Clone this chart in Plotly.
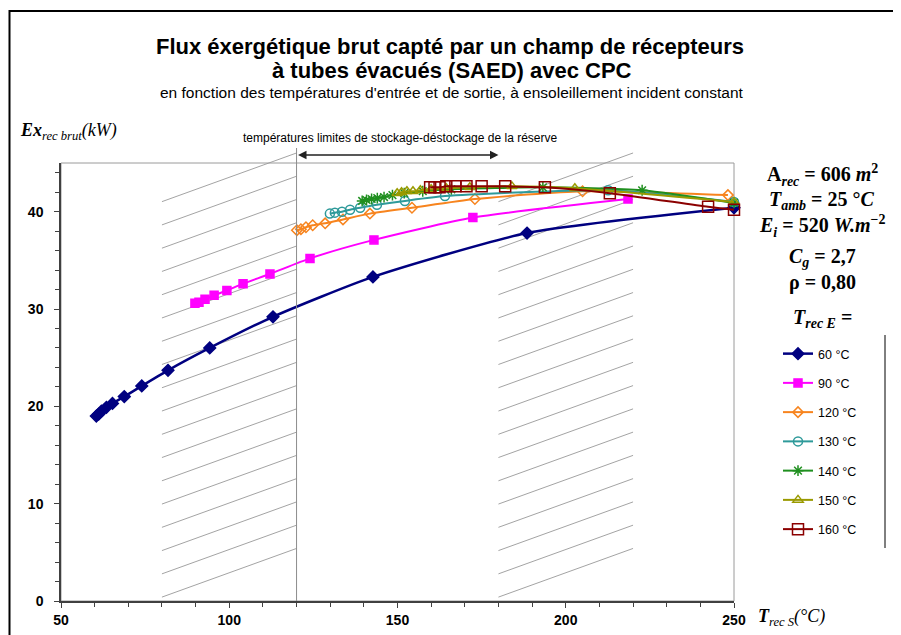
import plotly.graph_objects as go

# axis ranges
X0, X1 = 50, 250
Y0, Y1 = 0, 45

# series: outlet temperature T_rec S (°C) vs exergy flux (kW), one per inlet temperature
t60_x = [60.5, 61.2, 62.0, 63.5, 65.3, 68.8, 74.0, 81.8, 94.2, 113.0, 142.7, 188.5, 250.0]
t60_y = [19.0, 19.2, 19.5, 19.9, 20.3, 21.0, 22.1, 23.7, 26.0, 29.2, 33.3, 37.8, 40.4]

t90_x = [89.8, 91.0, 92.8, 95.5, 99.3, 104.1, 112.1, 124.0, 143.0, 172.4, 218.5]
t90_y = [30.6, 30.7, 31.0, 31.4, 31.9, 32.6, 33.6, 35.2, 37.1, 39.4, 41.3]

t120_x = [120.1, 121.3, 122.8, 124.8, 128.5, 133.8, 141.8, 154.3, 173.0, 205.0, 248.2]
t120_y = [38.1, 38.2, 38.4, 38.6, 38.8, 39.2, 39.8, 40.4, 41.3, 42.1, 41.7]

t130_x = [129.9, 131.4, 133.5, 135.9, 138.9, 143.9, 152.2, 164.1, 212.6, 250.0]
t130_y = [39.8, 39.9, 40.0, 40.2, 40.4, 40.7, 41.1, 41.6, 42.2, 41.0]

t140_x = [139.5, 140.8, 142.3, 144.0, 146.0, 148.5, 152.0, 157.5, 166.0, 193.2, 222.7, 250.0]
t140_y = [41.1, 41.2, 41.3, 41.4, 41.5, 41.7, 41.9, 42.1, 42.3, 42.5, 42.2, 40.9]

t150_x = [149.9, 151.2, 152.8, 154.6, 156.8, 160.0, 164.5, 171.5, 184.0, 202.7, 250.0]
t150_y = [41.9, 42.0, 42.1, 42.1, 42.2, 42.3, 42.4, 42.5, 42.6, 42.4, 41.0]

t160_x = [159.7, 161.0, 162.5, 164.5, 167.2, 170.5, 175.0, 182.0, 193.8, 213.1, 242.3, 250.0]
t160_y = [42.5, 42.5, 42.5, 42.6, 42.6, 42.6, 42.6, 42.6, 42.5, 41.9, 40.5, 40.2]

labels = ["60 °C", "90 °C", "120 °C", "130 °C", "140 °C", "150 °C", "160 °C"]
colors = ["#000080", "#ff00ff", "#f7841e", "#2e9a9a", "#1f8f1f", "#9a9a00", "#8b0000"]
symbols = ["diamond", "square", "diamond-open", "circle-open", "asterisk-open",
           "triangle-up-open", "square-open"]
sizes = [9, 8, 8, 9, 9, 9, 11]
xs = [t60_x, t90_x, t120_x, t130_x, t140_x, t150_x, t160_x]
ys = [t60_y, t90_y, t120_y, t130_y, t140_y, t150_y, t160_y]

# hatched zones (outlet temperatures outside the storage limits)
hatch_zones = [(80, 120), (180, 220)]
storage_limits = (120, 180)

# plot area in the picture (pixels): left, top, width, height
PL, PT, PW, PH = 61, 163, 673, 438
OFF = 8  # page body margin


def xp(v):
    return (v - X0) / (X1 - X0)


def yp(v):
    return (v - Y0) / (Y1 - Y0)


def pxx(px):
    return (px - PL) / PW


def pxy(py):
    return (PT + PH - py) / PH


fig = go.Figure()

for i in range(len(labels)):
    fig.add_trace(go.Scatter(
        x=xs[i], y=ys[i], mode="lines+markers", name=labels[i],
        legendgroup=labels[i],
        line=dict(color=colors[i], width=2.5 if i == 0 else 2, shape="spline", smoothing=0.6),
        marker=dict(symbol=symbols[i], size=sizes[i], color=colors[i],
                    line=dict(color=colors[i], width=1.5)),
        cliponaxis=False,
    ))

shapes = []
# hatch lines
for (a, b) in hatch_zones:
    for k in range(18):
        y_left = 0.4 + k * 2.39
        shapes.append(dict(type="line", xref="paper", yref="paper",
                           x0=xp(a), x1=xp(b), y0=yp(y_left), y1=yp(y_left + 5.0),
                           line=dict(color="#8c8c8c", width=0.8), layer="below"))

# grey plot frame (top/right)
shapes.append(dict(type="rect", xref="paper", yref="paper", x0=0, x1=1, y0=0, y1=1,
                   line=dict(color="#9a9a9a", width=1), layer="below"))
# vertical limit line at 120 °C
shapes.append(dict(type="line", xref="paper", yref="paper",
                   x0=xp(storage_limits[0]), x1=xp(storage_limits[0]), y0=0, y1=pxy(148),
                   line=dict(color="#8c8c8c", width=1)))
# legend right border
shapes.append(dict(type="line", xref="paper", yref="paper", x0=pxx(885), x1=pxx(885),
                   y0=pxy(548), y1=pxy(335), line=dict(color="black", width=1)))
# outer frame of the picture
shapes.append(dict(type="rect", xref="paper", yref="paper", x0=pxx(9.5), x1=pxx(894),
                   y0=pxy(660), y1=pxy(11), line=dict(color="black", width=2)))

serif = "Liberation Serif"
sans = "Liberation Sans"
cx = pxx(822)

annotations = [
    dict(text="<b>Flux éxergétique brut capté par un champ de récepteurs</b>",
         x=pxx(450), y=pxy(46), font=dict(family=sans, size=22, color="black")),
    dict(text="<b>à tubes évacués (SAED) avec CPC</b>",
         x=pxx(452), y=pxy(70), font=dict(family=sans, size=22, color="black")),
    dict(text="en fonction des températures d'entrée et de sortie, à ensoleillement incident constant",
         x=pxx(452), y=pxy(93), font=dict(family=sans, size=15.5, color="black")),
    dict(text="températures limites de stockage-déstockage de la réserve",
         x=pxx(400), y=pxy(138), font=dict(family=sans, size=12, color="black")),
    dict(text="<b><i>Ex</i></b><sub><i>rec brut</i></sub><i>(kW)</i>",
         x=pxx(18), y=pxy(131), xanchor="left",
         font=dict(family=serif, size=18, color="black")),
    dict(text="<b><i>T</i></b><sub><i>rec S</i></sub><i>(°C)</i>",
         x=pxx(756), y=pxy(617), xanchor="left",
         font=dict(family=serif, size=18, color="black")),
    dict(text="<b>A</b><sub><b><i>rec</i></b></sub><b> = 606 <i>m</i></b><sup><b>2</b></sup>",
         x=cx, y=pxy(175), font=dict(family=serif, size=20, color="black")),
    dict(text="<b><i>T</i></b><sub><b><i>amb</i></b></sub><b> = 25 °<i>C</i></b>",
         x=cx, y=pxy(200), font=dict(family=serif, size=20, color="black")),
    dict(text="<b><i>E</i></b><sub><b><i>i</i></b></sub><b> = 520 <i>W.m</i></b><sup><b>−2</b></sup>",
         x=cx, y=pxy(226), font=dict(family=serif, size=20, color="black")),
    dict(text="<b><i>C</i></b><sub><b><i>g</i></b></sub><b> = 2,7</b>",
         x=cx, y=pxy(257), font=dict(family=serif, size=20, color="black")),
    dict(text="<b>ρ = 0,80</b>",
         x=cx, y=pxy(282), font=dict(family=serif, size=20, color="black")),
    dict(text="<b><i>T</i></b><sub><b><i>rec E</i></b></sub><b> =</b>",
         x=cx, y=pxy(318), font=dict(family=serif, size=20, color="black")),
]
for a in annotations:
    a.setdefault("xanchor", "center")
    a.update(xref="paper", yref="paper", yanchor="middle", showarrow=False)

# double-headed arrow showing the storage limits
annotations.append(dict(x=storage_limits[1], ax=storage_limits[0], xref="x", axref="x",
                        y=pxy(155), yref="paper", ay=0, ayref="pixel", text="",
                        showarrow=True, arrowhead=2, arrowside="end+start",
                        arrowsize=1.3, arrowwidth=1.3, arrowcolor="#222222"))

fig.update_layout(
    width=901, height=635,
    margin=dict(l=PL - OFF, r=901 - (PL + PW - OFF), t=PT - OFF, b=635 - (PT + PH - OFF)),
    paper_bgcolor="white", plot_bgcolor="white",
    shapes=shapes, annotations=annotations,
    showlegend=True,
    legend=dict(x=pxx(778), y=pxy(339), xanchor="left", yanchor="top",
                font=dict(family=sans, size=12.5, color="black"),
                bgcolor="rgba(0,0,0,0)", tracegroupgap=10, traceorder="grouped"),
)
fig.update_xaxes(range=[X0, X1], tickvals=[50, 100, 150, 200, 250],
                 ticks="outside", ticklen=5, tickcolor="#404040",
                 minor=dict(dtick=10, ticks="outside", ticklen=4, tickcolor="#404040"),
                 showline=True, linecolor="#404040", linewidth=1.5, showgrid=False,
                 zeroline=False,
                 tickfont=dict(family=sans, size=14, color="black", weight="bold"))
fig.update_yaxes(range=[Y0, Y1], tickvals=[0, 10, 20, 30, 40],
                 ticks="outside", ticklen=5, tickcolor="#404040",
                 minor=dict(dtick=2, ticks="outside", ticklen=4, tickcolor="#404040"),
                 showline=True, linecolor="#404040", linewidth=1.5, showgrid=False,
                 zeroline=False, ticklabelstandoff=8,
                 tickfont=dict(family=sans, size=14, color="black", weight="bold"))

fig.write_html("out.html")
